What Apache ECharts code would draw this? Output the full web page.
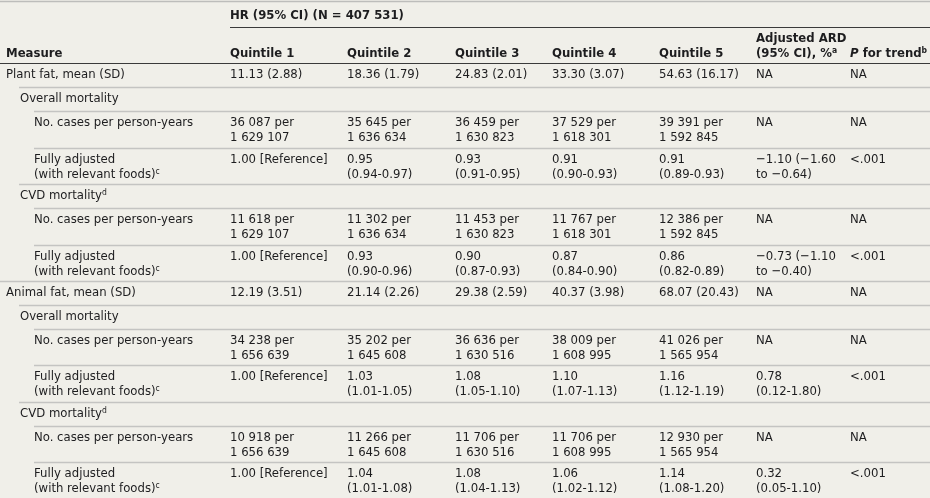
<!DOCTYPE html>
<html>
<head>
<meta charset="utf-8">
<script src="https://cdn.jsdelivr.net/npm/echarts@6/dist/echarts.min.js"></script>
<style>
html,body{margin:0;padding:0;background:#f0efe9;}
#chart{width:930px;height:498px;}
</style>
</head>
<body>
<div id="chart"></div>
<script>
// ---------- DATA ----------
const titleText = "HR (95% CI) (N = 407 531)";
const columnHeaders = ["Measure", "Quintile 1", "Quintile 2", "Quintile 3", "Quintile 4", "Quintile 5",
  "Adjusted ARD\n(95% CI), %{sup|a}", "{it|P} for trend{sup|b}"];
const measureLabels = [
  "Plant fat, mean (SD)",
  "Overall mortality",
  "No. cases per person-years",
  "Fully adjusted\n(with relevant foods){sup|c}",
  "CVD mortality{sup|d}",
  "No. cases per person-years",
  "Fully adjusted\n(with relevant foods){sup|c}",
  "Animal fat, mean (SD)",
  "Overall mortality",
  "No. cases per person-years",
  "Fully adjusted\n(with relevant foods){sup|c}",
  "CVD mortality{sup|d}",
  "No. cases per person-years",
  "Fully adjusted\n(with relevant foods){sup|c}"
];
const measureLevels = [0, 1, 2, 2, 1, 2, 2, 0, 1, 2, 2, 1, 2, 2];
const quintile1 = ["11.13 (2.88)", "", "36 087 per\n1 629 107", "1.00 [Reference]", "", "11 618 per\n1 629 107", "1.00 [Reference]",
  "12.19 (3.51)", "", "34 238 per\n1 656 639", "1.00 [Reference]", "", "10 918 per\n1 656 639", "1.00 [Reference]"];
const quintile2 = ["18.36 (1.79)", "", "35 645 per\n1 636 634", "0.95\n(0.94-0.97)", "", "11 302 per\n1 636 634", "0.93\n(0.90-0.96)",
  "21.14 (2.26)", "", "35 202 per\n1 645 608", "1.03\n(1.01-1.05)", "", "11 266 per\n1 645 608", "1.04\n(1.01-1.08)"];
const quintile3 = ["24.83 (2.01)", "", "36 459 per\n1 630 823", "0.93\n(0.91-0.95)", "", "11 453 per\n1 630 823", "0.90\n(0.87-0.93)",
  "29.38 (2.59)", "", "36 636 per\n1 630 516", "1.08\n(1.05-1.10)", "", "11 706 per\n1 630 516", "1.08\n(1.04-1.13)"];
const quintile4 = ["33.30 (3.07)", "", "37 529 per\n1 618 301", "0.91\n(0.90-0.93)", "", "11 767 per\n1 618 301", "0.87\n(0.84-0.90)",
  "40.37 (3.98)", "", "38 009 per\n1 608 995", "1.10\n(1.07-1.13)", "", "11 706 per\n1 608 995", "1.06\n(1.02-1.12)"];
const quintile5 = ["54.63 (16.17)", "", "39 391 per\n1 592 845", "0.91\n(0.89-0.93)", "", "12 386 per\n1 592 845", "0.86\n(0.82-0.89)",
  "68.07 (20.43)", "", "41 026 per\n1 565 954", "1.16\n(1.12-1.19)", "", "12 930 per\n1 565 954", "1.14\n(1.08-1.20)"];
const adjustedARD = ["NA", "", "NA", "\u22121.10 (\u22121.60\nto \u22120.64)", "", "NA", "\u22120.73 (\u22121.10\nto \u22120.40)",
  "NA", "", "NA", "0.78\n(0.12-1.80)", "", "NA", "0.32\n(0.05-1.10)"];
const pForTrend = ["NA", "", "NA", "<.001", "", "NA", "<.001",
  "NA", "", "NA", "<.001", "", "NA", "<.001"];

// ---------- LAYOUT ----------
const W = 930, H = 498;
const colX = [6, 230, 347, 455, 552, 659, 756, 850];
const levelTextX = [6, 20, 34];
const levelLineX = [0, 19, 34];
const headerTop = 27, headerBottom = 63;
const rowHeights = [24, 24, 37, 36, 24, 37, 36, 24, 24, 36, 37, 24, 36, 36];
const rowTops = [];
(function () { let y = headerBottom; for (const h of rowHeights) { rowTops.push(y); y += h; } })();

const FONT = "'DejaVu Sans Condensed', 'Liberation Sans Narrow', sans-serif";
const FS = 13, LH = 15;
const TXT = '#1d1d1f';
function makeRich(bold) {
  return {
    sup: { fontSize: 8.5, lineHeight: 8, verticalAlign: 'top', fontFamily: FONT, fill: TXT, fontWeight: bold ? 'bold' : 'normal' },
    it: { fontStyle: 'italic', fontWeight: 'bold', fontFamily: FONT, fontSize: FS, lineHeight: LH, fill: TXT }
  };
}

const valueColumns = [quintile1, quintile2, quintile3, quintile4, quintile5, adjustedARD, pForTrend];

// cells: [colIndex, rowIndex]
const cellData = [];
measureLabels.forEach((t, r) => cellData.push({ value: [0, r], text: t }));
valueColumns.forEach((arr, c) => arr.forEach((t, r) => { if (t) cellData.push({ value: [c + 1, r], text: t }); }));

const headerData = columnHeaders.map((t, c) => ({ value: [c], text: t }));

function textEl(api, x, y, text, bold, vAlign) {
  const p = api.coord([x, y]);
  return {
    type: 'text', x: p[0], y: p[1],
    style: {
      text: text, fill: TXT,
      fontFamily: FONT, fontSize: FS, fontWeight: bold ? 'bold' : 'normal',
      lineHeight: LH, verticalAlign: vAlign || 'top', align: 'left',
      rich: makeRich(bold)
    }
  };
}

const option = {
  backgroundColor: '#f0efe9',
  animation: false,
  grid: { left: 0, right: 0, top: 0, bottom: 0 },
  xAxis: { type: 'value', min: 0, max: W, show: false },
  yAxis: { type: 'value', min: 0, max: H, inverse: true, show: false },
  series: [
    { // rule lines
      type: 'custom', silent: true,
      data: rowTops.map((y, r) => [r]),
      renderItem: function (params, api) {
        const r = api.value(0);
        const y = rowTops[r];
        const x0 = r === 0 ? 0 : levelLineX[measureLevels[r]];
        const a = api.coord([x0, y]), b = api.coord([W, y]);
        const dark = r === 0;
        return {
          type: 'line',
          shape: { x1: a[0], y1: Math.round(a[1]) + 0.5, x2: b[0], y2: Math.round(b[1]) + 0.5 },
          style: { stroke: dark ? '#3a3a3a' : '#c4c4c2', lineWidth: dark ? 1.2 : 1.6 }
        };
      }
    },
    { // top border, title underline
      type: 'custom', silent: true,
      data: [[0, 0.5], [colX[1], headerTop]],
      renderItem: function (params, api) {
        const a = api.coord([api.value(0), api.value(1)]), b = api.coord([W, api.value(1)]);
        return { type: 'line', shape: { x1: a[0], y1: Math.round(a[1]) + 0.5, x2: b[0], y2: Math.round(b[1]) + 0.5 },
          style: { stroke: params.dataIndex === 0 ? '#bdbdbb' : '#3a3a3a', lineWidth: params.dataIndex === 0 ? 1.5 : 1.2 } };
      }
    },
    { // title
      type: 'custom', silent: true,
      data: [[colX[1], 16]],
      renderItem: function (params, api) {
        return textEl(api, api.value(0), api.value(1), titleText, true, 'middle');
      }
    },
    { // column headers
      type: 'custom', silent: true,
      data: headerData,
      renderItem: function (params, api) {
        const c = api.value(0);
        return textEl(api, colX[c], 61, headerData[params.dataIndex].text, true, 'bottom');
      }
    },
    { // body cells
      type: 'custom', silent: true,
      data: cellData,
      renderItem: function (params, api) {
        const c = api.value(0), r = api.value(1);
        const x = c === 0 ? levelTextX[measureLevels[r]] : colX[c];
        return textEl(api, x, rowTops[r] + 4, cellData[params.dataIndex].text, false, 'top');
      }
    }
  ]
};
const chart = echarts.init(document.getElementById('chart'), null, { renderer: 'canvas' });
chart.setOption(option);
</script>
</body>
</html>
